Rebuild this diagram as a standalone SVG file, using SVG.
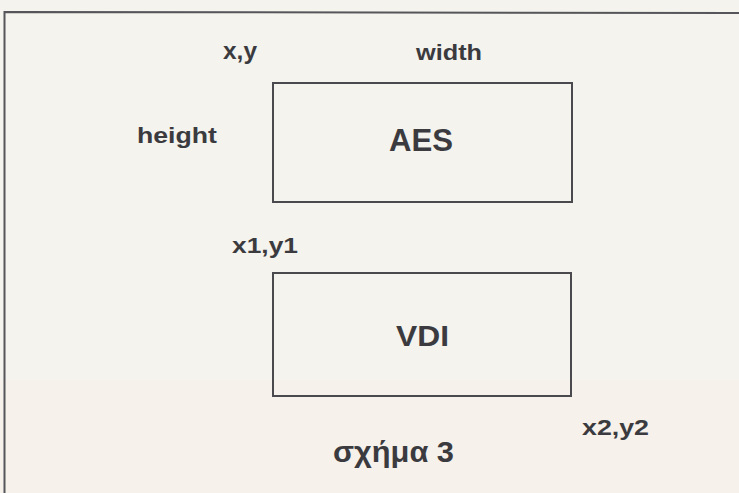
<svg xmlns="http://www.w3.org/2000/svg" width="739" height="493" viewBox="0 0 739 493">
  <style>
    .lbl { font-family: "Liberation Sans", Arial, sans-serif; font-weight: bold; fill: #3b3b3f; }
    .box { fill: none; stroke: #4a4a4e; stroke-width: 2; }
    .frame { fill: none; stroke: #55555a; stroke-width: 2; }
  </style>
  <rect x="0" y="0" width="739" height="493" fill="#f4f3ee"/>
  <rect x="0" y="380" width="739" height="113" fill="#f6f1ea"/>
  <path class="frame" d="M4.5 500 L4.5 12 L739 13"/>
  <g id="labels">
    <text class="lbl" x="223" y="59" font-size="23" textLength="34" lengthAdjust="spacingAndGlyphs">x,y</text>
    <text class="lbl" x="416" y="60" font-size="22" textLength="66" lengthAdjust="spacingAndGlyphs">width</text>
    <text class="lbl" x="137" y="143" font-size="22" textLength="80" lengthAdjust="spacingAndGlyphs">height</text>
    <text class="lbl" x="232" y="253" font-size="22" textLength="66" lengthAdjust="spacingAndGlyphs">x1,y1</text>
    <text class="lbl" x="582" y="435" font-size="22" textLength="67" lengthAdjust="spacingAndGlyphs">x2,y2</text>
    <text class="lbl" x="333" y="462" font-size="29" textLength="121" lengthAdjust="spacingAndGlyphs">σχήμα 3</text>
  </g>
  <g id="aes">
    <rect class="box" x="273" y="83" width="299" height="119"/>
    <text class="lbl" x="389" y="151" font-size="31" textLength="64" lengthAdjust="spacingAndGlyphs">AES</text>
  </g>
  <g id="vdi">
    <rect class="box" x="273" y="273" width="298" height="123"/>
    <text class="lbl" x="396" y="346" font-size="30" textLength="53" lengthAdjust="spacingAndGlyphs">VDI</text>
  </g>
  <g id="connectors"></g>
</svg>
